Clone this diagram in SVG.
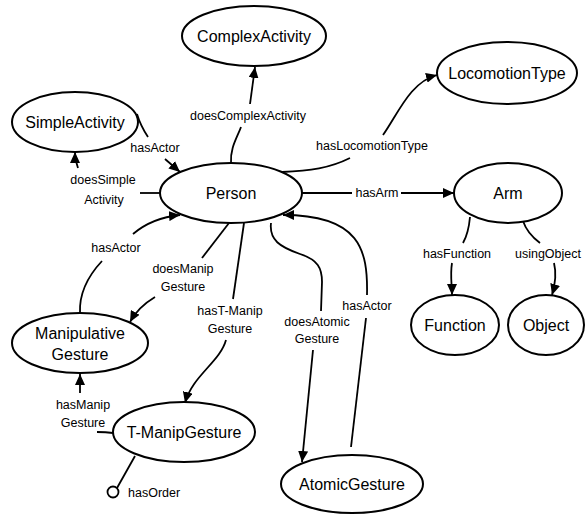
<svg xmlns="http://www.w3.org/2000/svg" width="587" height="515" viewBox="0 0 587 515">
  <style>
    .node ellipse { fill: #fff; stroke: #000; stroke-width: 2; }
    .node text { font-family: "Liberation Sans", Arial, sans-serif; font-size: 16px; text-anchor: middle; fill: #000; }
    .edge { fill: none; stroke: #000; stroke-width: 1.8; }
    .lbl { font-family: "Liberation Sans", Arial, sans-serif; font-size: 12.5px; text-anchor: middle; fill: #000; }
  </style>
  <defs>
    <marker id="arrow" markerUnits="userSpaceOnUse" markerWidth="12" markerHeight="10" refX="11" refY="5" orient="auto">
      <path d="M0,0 L11,5 L0,10 z" fill="#000"/>
    </marker>
  </defs>
  <rect width="587" height="515" fill="#fff"/>

  <g id="connectors">
    <!-- Person -> ComplexActivity -->
    <path class="edge" d="M231,163 C230,148 237,138 241,127"/>
    <path class="edge" d="M250,104 L255,67" marker-end="url(#arrow)"/>
    <text class="lbl" x="248" y="120">doesComplexActivity</text>

    <!-- SimpleActivity -> Person -->
    <path class="edge" d="M137,114 C140,124 144,131 148,137"/>
    <path class="edge" d="M165,159 L180,172" marker-end="url(#arrow)"/>
    <text class="lbl" x="155" y="152">hasActor</text>

    <!-- Person -> SimpleActivity -->
    <path class="edge" d="M160,193 L140,193"/>
    <path class="edge" d="M78,168 C76,162 75,158 75,152" marker-end="url(#arrow)"/>
    <text class="lbl" x="103" y="184">doesSimple</text>
    <text class="lbl" x="104" y="204">Activity</text>

    <!-- ManipulativeGesture -> Person -->
    <path class="edge" d="M80,313 C79,292 88,276 102,261"/>
    <path class="edge" d="M133,234 C146,223 160,217 180,215" marker-end="url(#arrow)"/>
    <text class="lbl" x="116" y="252">hasActor</text>

    <!-- Person -> ManipulativeGesture -->
    <path class="edge" d="M229,223 L202,258"/>
    <path class="edge" d="M155,297 C145,303 136,311 130,322" marker-end="url(#arrow)"/>
    <text class="lbl" x="183" y="273">doesManip</text>
    <text class="lbl" x="183" y="291">Gesture</text>

    <!-- Person -> T-ManipGesture -->
    <path class="edge" d="M244,223 L233,299"/>
    <path class="edge" d="M226,340 C220,362 192,376 185,403" marker-end="url(#arrow)"/>
    <text class="lbl" x="230" y="315">hasT-Manip</text>
    <text class="lbl" x="230" y="333">Gesture</text>

    <!-- T-ManipGesture -> ManipulativeGesture -->
    <path class="edge" d="M113,433 C106,432 101,432 97,432"/>
    <path class="edge" d="M80,393 L80,374" marker-end="url(#arrow)"/>
    <text class="lbl" x="83" y="409">hasManip</text>
    <text class="lbl" x="83" y="427">Gesture</text>

    <!-- T-ManipGesture hasOrder -->
    <path class="edge" d="M135,456 L117,488"/>
    <circle cx="113" cy="492" r="5.5" fill="#fff" stroke="#000" stroke-width="1.8"/>
    <text class="lbl" x="128" y="497" style="text-anchor:start">hasOrder</text>

    <!-- Person -> AtomicGesture -->
    <path class="edge" d="M271,223 C269,240 280,247 300,254 C318,260 322,268 322,282 L321,311"/>
    <path class="edge" d="M313,350 L302,462" marker-end="url(#arrow)"/>
    <text class="lbl" x="317" y="326">doesAtomic</text>
    <text class="lbl" x="317" y="343">Gesture</text>

    <!-- AtomicGesture -> Person -->
    <path class="edge" d="M351,447 L366,318"/>
    <path class="edge" d="M367,295 C368,250 360,215 283,215" marker-end="url(#arrow)"/>
    <text class="lbl" x="367" y="310">hasActor</text>

    <!-- Person -> LocomotionType -->
    <path class="edge" d="M282,172 C310,171 330,168 350,158"/>
    <path class="edge" d="M383,135 C398,114 410,82 437,75" marker-end="url(#arrow)"/>
    <text class="lbl" x="372" y="150">hasLocomotionType</text>

    <!-- Person -> Arm -->
    <path class="edge" d="M302,193 L352,193"/>
    <path class="edge" d="M401,193 L454,193" marker-end="url(#arrow)"/>
    <text class="lbl" x="377" y="197">hasArm</text>

    <!-- Arm -> Function -->
    <path class="edge" d="M470,217 C469,228 467,236 463,243"/>
    <path class="edge" d="M452,263 C450,275 452,285 452,295" marker-end="url(#arrow)"/>
    <text class="lbl" x="457" y="258">hasFunction</text>

    <!-- Arm -> Object -->
    <path class="edge" d="M523,221 C526,230 532,237 540,243"/>
    <path class="edge" d="M554,263 C557,275 555,285 552,295" marker-end="url(#arrow)"/>
    <text class="lbl" x="548" y="258">usingObject</text>
  </g>

  <g id="ComplexActivity" class="node">
    <ellipse cx="254" cy="36" rx="72" ry="30"/>
    <text x="254" y="42">ComplexActivity</text>
  </g>
  <g id="SimpleActivity" class="node">
    <ellipse cx="75" cy="122" rx="63" ry="30"/>
    <text x="75" y="128">SimpleActivity</text>
  </g>
  <g id="Person" class="node">
    <ellipse cx="231" cy="193" rx="71" ry="30"/>
    <text x="231" y="199">Person</text>
  </g>
  <g id="LocomotionType" class="node">
    <ellipse cx="507" cy="73" rx="70" ry="31"/>
    <text x="507" y="79">LocomotionType</text>
  </g>
  <g id="Arm" class="node">
    <ellipse cx="508" cy="193" rx="54" ry="30"/>
    <text x="508" y="199">Arm</text>
  </g>
  <g id="Function" class="node">
    <ellipse cx="455" cy="325" rx="44" ry="30"/>
    <text x="455" y="331">Function</text>
  </g>
  <g id="Object" class="node">
    <ellipse cx="546" cy="325" rx="38" ry="30"/>
    <text x="546" y="331">Object</text>
  </g>
  <g id="ManipulativeGesture" class="node">
    <ellipse cx="80" cy="343" rx="68" ry="30"/>
    <text x="80" y="339">Manipulative</text>
    <text x="80" y="360">Gesture</text>
  </g>
  <g id="T-ManipGesture" class="node">
    <ellipse cx="184" cy="432" rx="71" ry="30"/>
    <text x="184" y="438">T-ManipGesture</text>
  </g>
  <g id="AtomicGesture" class="node">
    <ellipse cx="352" cy="484" rx="71" ry="29"/>
    <text x="352" y="490">AtomicGesture</text>
  </g>
</svg>
